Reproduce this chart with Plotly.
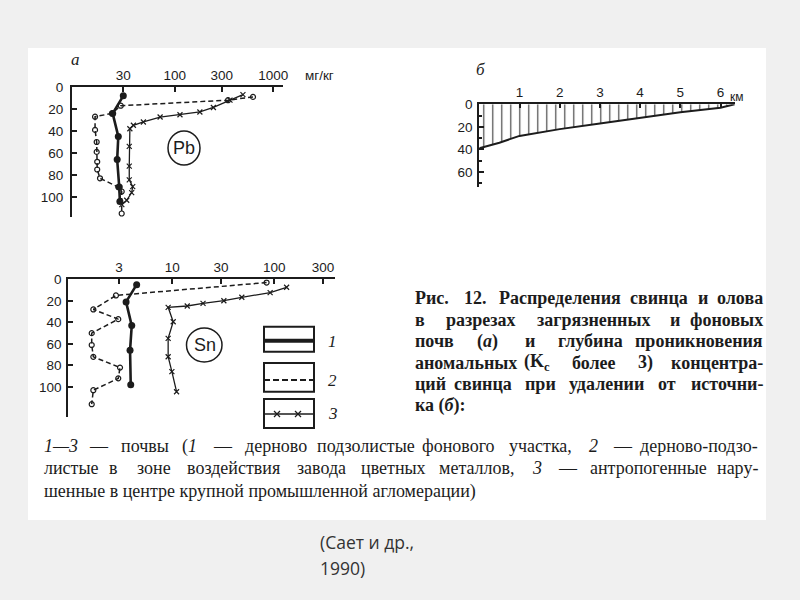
import re
import plotly.graph_objects as go

# ---------------- data ----------------
# panel "а": Pb, concentration (mg/kg) vs depth (cm)
pb_depth_1 = [8, 24, 45, 66, 91, 104]
pb_conc_1 = [30, 23.4, 26.7, 26, 27.3, 27.7]
pb_depth_2 = [9, 12, 17, 24, 27, 39, 50, 59, 68, 75, 83, 91, 95, 115]
pb_conc_2 = [624, 348, 28.3, 23, 15.5, 15.5, 16.1, 16.1, 16.3, 16.3, 17.4, 26.7, 28.9, 28.9]
pb_depth_3 = [7, 12, 18.6, 22.7, 25.2, 27.3, 31.8, 34.8, 38, 54, 72, 84.5, 90.6, 96, 103, 107]
pb_conc_3 = [493, 364, 247, 180, 113, 71, 48, 38, 35, 34.5, 34.5, 34.5, 37.4, 36.5, 32.5, 29]

# Sn
sn_depth_1 = [5, 21, 43, 66, 98]
sn_conc_1 = [4.47, 3.52, 4.0, 3.85, 3.91]
sn_depth_2 = [3, 15, 28, 37, 50, 61, 72, 82, 92, 103, 116]
sn_conc_2 = [84, 2.8, 1.68, 2.95, 1.62, 1.62, 1.68, 3.07, 2.95, 1.68, 1.62]
sn_depth_3 = [7.4, 12.4, 16.7, 19.9, 22.3, 24.8, 26, 39.4, 54.8, 71.9, 85.8, 104.4]
sn_conc_3 = [132, 91, 48, 32, 20, 14, 9.1, 10.2, 9.1, 9.1, 9.9, 11.0]

# panel "б": penetration depth vs distance from source (km)
prof_km = [0, 0.5, 1, 2, 3, 4, 5, 6, 6.35]
prof_depth = [39, 34, 28, 22, 17, 12, 7, 3, 0]

# tick labels
pb_ticks = [30, 100, 300, 1000]
sn_ticks = [3, 10, 30, 100, 300]
depth_ticks = [0, 20, 40, 60, 80, 100]
km_ticks = [1, 2, 3, 4, 5, 6]
prof_ticks = [0, 20, 40, 60]

caption_right = [
    "Рис. 12. Распределения свинца и олова",
    "в разрезах загрязненных и фоновых",
    "почв (<i>а</i>) и глубина проникновения",
    "аномальных (K<sub>c</sub> более 3) концентра-",
    "ций свинца при удалении от источни-",
    "ка (<i>б</i>):",
]
caption_bottom = [
    "<i>1—3</i> — почвы (<i>1</i> — дерново подзолистые фонового участка, <i>2</i> — дерново-подзо-",
    "листые в зоне воздействия завода цветных металлов, <i>3</i> — антропогенные нару-",
    "шенные в центре крупной промышленной агломерации)",
]
source_lines = ["(Сает и др.,", "1990)"]

# ---------------- helpers ----------------
W, H = 800, 600
INK = "#1c1c1c"
TICKFONT = dict(family="Liberation Sans Narrow, Liberation Sans, Arial, sans-serif",
                size=13.5, color=INK)
SERIF = "Liberation Serif, serif"


def px(x):
    return x / W


def py(y):
    return 1 - y / H


def axis_style(**kw):
    d = dict(showline=True, linewidth=2, linecolor=INK, ticks="inside", ticklen=5,
             tickwidth=1.5, tickcolor=INK, showgrid=False, zeroline=False,
             tickfont=TICKFONT, automargin=False)
    d.update(kw)
    return d


fig = go.Figure()

s1 = dict(mode="lines+markers", line=dict(color=INK, width=2.6),
          marker=dict(symbol="circle", size=7, color=INK))
s2 = dict(mode="lines+markers", line=dict(color=INK, width=1.5, dash="5px,3px"),
          marker=dict(symbol="circle-open", size=5, color=INK, line=dict(width=1.2)))
s3 = dict(mode="lines+markers", line=dict(color=INK, width=1.3),
          marker=dict(symbol="x-thin", size=5, color=INK, line=dict(width=1.2, color=INK)))

fig.add_trace(go.Scatter(x=pb_conc_2, y=pb_depth_2, xaxis="x", yaxis="y", **s2))
fig.add_trace(go.Scatter(x=pb_conc_3, y=pb_depth_3, xaxis="x", yaxis="y", **s3))
fig.add_trace(go.Scatter(x=pb_conc_1, y=pb_depth_1, xaxis="x", yaxis="y", **s1))

fig.add_trace(go.Scatter(x=sn_conc_2, y=sn_depth_2, xaxis="x2", yaxis="y2", **s2))
fig.add_trace(go.Scatter(x=sn_conc_3, y=sn_depth_3, xaxis="x2", yaxis="y2", **s3))
fig.add_trace(go.Scatter(x=sn_conc_1, y=sn_depth_1, xaxis="x2", yaxis="y2", **s1))

fig.add_trace(go.Scatter(x=prof_km, y=prof_depth, xaxis="x3", yaxis="y3", mode="lines",
                         line=dict(color=INK, width=2), fill="tozeroy",
                         fillcolor="rgba(0,0,0,0)",
                         fillpattern=dict(shape="|", size=9, solidity=0.13,
                                          fgcolor="#444", bgcolor="rgba(0,0,0,0)")))

fig.update_layout(
    template="none",
    width=W, height=H, showlegend=False,
    margin=dict(l=0, r=0, t=0, b=0, pad=0, autoexpand=False),
    paper_bgcolor="#f0f0f0", plot_bgcolor="rgba(0,0,0,0)",
    xaxis=axis_style(type="log", domain=[px(72), px(283)], range=[0.956, 3.10],
                     side="top", anchor="y", tickvals=pb_ticks,
                     ticktext=[str(t) for t in pb_ticks]),
    yaxis=axis_style(domain=[py(217), py(87)], range=[118.2, 0], anchor="x",
                     tickvals=depth_ticks, ticklabelstandoff=4),
    xaxis2=axis_style(type="log", domain=[px(68.3), px(335)], range=[-0.020, 2.595],
                      side="top", anchor="y2", tickvals=sn_ticks,
                      ticktext=[str(t) for t in sn_ticks]),
    yaxis2=axis_style(domain=[py(416.7), py(279.3)], range=[127.6, 0], anchor="x2",
                      tickvals=depth_ticks, ticklabelstandoff=2),
    xaxis3=axis_style(domain=[px(479.3), px(735)], range=[0, 6.36], side="top",
                      anchor="y3", tickvals=km_ticks, ticklen=4),
    yaxis3=axis_style(domain=[py(186.7), py(104.3)], range=[73, 0], anchor="x3",
                      tickvals=prof_ticks, ticklabelstandoff=2,
                      minor=dict(dtick=10, ticks="inside", ticklen=3, tickcolor=INK)),
)

shapes = [
    # white scanned page
    dict(type="rect", xref="paper", yref="paper", x0=px(28), x1=px(766), y0=py(520), y1=py(48),
         fillcolor="white", line=dict(width=0), layer="below"),
    # element circles
    dict(type="circle", xref="paper", yref="paper", x0=px(168), x1=px(200), y0=py(165), y1=py(131),
         line=dict(color=INK, width=1.5)),
    dict(type="circle", xref="paper", yref="paper", x0=px(186.5), x1=px(222), y0=py(362), y1=py(328),
         line=dict(color=INK, width=1.5)),
]
# legend boxes
for (y0, y1) in [(326.7, 351.7), (363, 391.7), (399, 428)]:
    shapes.append(dict(type="rect", xref="paper", yref="paper", x0=px(264), x1=px(314),
                       y0=py(y1), y1=py(y0), line=dict(color=INK, width=2)))
shapes.append(dict(type="line", xref="paper", yref="paper", x0=px(264), x1=px(314),
                   y0=py(340.7), y1=py(340.7), line=dict(color=INK, width=4)))
shapes.append(dict(type="line", xref="paper", yref="paper", x0=px(264), x1=px(314),
                   y0=py(380), y1=py(380), line=dict(color=INK, width=2, dash="6px,3px")))
shapes.append(dict(type="line", xref="paper", yref="paper", x0=px(264), x1=px(314),
                   y0=py(414), y1=py(414), line=dict(color=INK, width=1.3)))
for cx in (277, 298):
    for dy in (-3, 3):
        shapes.append(dict(type="line", xref="paper", yref="paper", x0=px(cx - 3), x1=px(cx + 3),
                           y0=py(414 - dy), y1=py(414 + dy), line=dict(color=INK, width=1.3)))
fig.update_layout(shapes=shapes)

ann = []


def text(x, y, s, size, family=SERIF, anchor="left", color=INK):
    ann.append(dict(x=px(x), y=py(y), xref="paper", yref="paper", text=s, showarrow=False,
                    xanchor=anchor, yanchor="middle",
                    font=dict(family=family, size=size, color=color)))


def vis_len(s):
    plain = re.sub(r"<[^>]+>", "", s)
    return len(plain) + plain.count("—")  # em dash ~ two average letters


def line_text(s, y, x0, x1, size, cw, family, bold=False, justify=True):
    wrap = (lambda w: "<b>" + w + "</b>") if bold else (lambda w: w)
    words = s.split(" ")
    if not justify:
        text(x0, y, wrap(s), size, family=family)
        return
    lens = [vis_len(w) * cw for w in words]
    gap = (x1 - x0 - sum(lens)) / (len(words) - 1)
    cur = x0
    for i, (w, l) in enumerate(zip(words, lens)):
        if i == 0:
            text(x0, y, wrap(w), size, family=family, anchor="left")
        elif i == len(words) - 1:
            text(x1, y, wrap(w), size, family=family, anchor="right")
        else:
            text(cur + l / 2, y, wrap(w), size, family=family, anchor="center")
        cur += l + gap


text(69, 60, "<i>а</i>", 17)
text(474, 69, "<i>б</i>", 17)
text(184, 148, "Pb", 18, family="Liberation Sans, sans-serif", anchor="center")
text(204.5, 345, "Sn", 18, family="Liberation Sans, sans-serif", anchor="center")
text(303, 75, "мг/кг", 13.5, family=TICKFONT["family"])
text(728, 97, "км", 12, family=TICKFONT["family"])
for i, yy in enumerate([341, 380, 414]):
    text(326, yy, "<i>%d</i>" % (i + 1), 17)

ys_r = [298, 319.5, 341, 362.5, 384, 405.5]
for i, (s, yy) in enumerate(zip(caption_right, ys_r)):
    line_text(s, yy, 413, 765, 18, 9.1, SERIF, bold=True,
              justify=(i < len(caption_right) - 1))
ys_b = [446, 468, 491]
for i, (s, yy) in enumerate(zip(caption_bottom, ys_b)):
    line_text(s, yy, 42, 760, 18, 8.0, SERIF, bold=False,
              justify=(i < len(caption_bottom) - 1))

for s, yy in zip(source_lines, [542, 568]):
    text(318, yy, s, 17.5, family="Open Sans, Liberation Sans, sans-serif", color="#333")

fig.update_layout(annotations=ann)

fig.write_html("out.html", config={"displayModeBar": False},
               post_script="document.body.style.margin='0px';")
